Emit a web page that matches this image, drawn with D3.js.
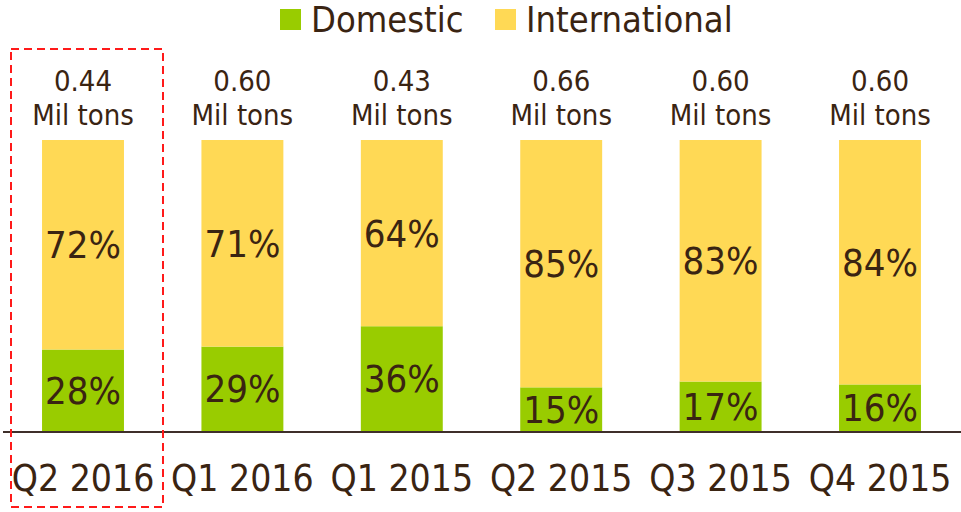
<!DOCTYPE html>
<html>
<head>
<meta charset="utf-8">
<script src="https://cdn.jsdelivr.net/npm/d3@7"></script>
<style>
  body { margin: 0; background: #fff; }
  text { font-family: "DejaVu Sans Condensed", "DejaVu Sans", sans-serif; font-stretch: condensed; fill: #3a2412; }
</style>
</head>
<body>
<div id="chart"></div>
<script>
// data
const quarters = ["Q2 2016", "Q1 2016", "Q1 2015", "Q2 2015", "Q3 2015", "Q4 2015"];
const domestic = [28, 29, 36, 15, 17, 16];
const international = [72, 71, 64, 85, 83, 84];
const totals = ["0.44", "0.60", "0.43", "0.66", "0.60", "0.60"];
const seriesNames = ["Domestic", "International"];

const width = 961;
const height = 512;

const svg = d3.select("#chart")
    .append("svg")
    .attr("width", width)
    .attr("height", height);

const colorScale = d3.scaleOrdinal()
    .domain(seriesNames)
    .range(["#99cc00", "#ffd955"]);

// scales
const xScale = d3.scaleBand()
    .domain(quarters)
    .range([3.3, 959.7])
    .paddingInner(0.486)
    .paddingOuter(0.243);

const yScale = d3.scaleLinear()
    .domain([0, 100])
    .range([431, 140]);

const rows = quarters.map(function(q, i) {
    return { quarter: q, Domestic: domestic[i], International: international[i], total: totals[i] };
});

const stacked = d3.stack().keys(seriesNames)(rows);

// bars
const layers = svg.selectAll("g.layer")
    .data(stacked)
    .enter()
    .append("g")
    .attr("class", "layer")
    .attr("fill", function(d) { return colorScale(d.key); });

layers.selectAll("rect")
    .data(function(d) { return d; })
    .enter()
    .append("rect")
    .attr("x", function(d) { return xScale(d.data.quarter); })
    .attr("y", function(d) { return yScale(d[1]); })
    .attr("width", xScale.bandwidth())
    .attr("height", function(d) { return yScale(d[0]) - yScale(d[1]); });

// percentage labels
layers.selectAll("text")
    .data(function(d) { return d; })
    .enter()
    .append("text")
    .attr("x", function(d) { return xScale(d.data.quarter) + xScale.bandwidth() / 2; })
    .attr("y", function(d) { return (yScale(d[0]) + yScale(d[1])) / 2; })
    .attr("dy", "0.36em")
    .attr("text-anchor", "middle")
    .attr("font-size", 38)
    .text(function(d) { return (d[1] - d[0]) + "%"; });

// baseline + category labels
const xAxis = svg.append("g")
    .attr("transform", `translate(0,${yScale(0)})`)
    .call(d3.axisBottom(xScale).tickSize(0).tickPadding(34));

xAxis.select(".domain").remove();
xAxis.selectAll("text")
    .attr("font-size", 37)
    .attr("font-family", null)
    .attr("fill", null);

svg.append("line")
    .attr("x1", 3)
    .attr("x2", width)
    .attr("y1", yScale(0) + 1)
    .attr("y2", yScale(0) + 1)
    .attr("stroke", "#3f2f2a")
    .attr("stroke-width", 2);

// totals above bars
const totalLabels = svg.selectAll("g.total")
    .data(rows)
    .enter()
    .append("text")
    .attr("class", "total")
    .attr("text-anchor", "middle")
    .attr("font-size", 29)
    .attr("x", function(d) { return xScale(d.quarter) + xScale.bandwidth() / 2; });

totalLabels.append("tspan")
    .attr("x", function(d) { return xScale(d.quarter) + xScale.bandwidth() / 2; })
    .attr("y", 91)
    .text(function(d) { return d.total; });

totalLabels.append("tspan")
    .attr("x", function(d) { return xScale(d.quarter) + xScale.bandwidth() / 2; })
    .attr("y", 125)
    .text("Mil tons");

// legend
const legendX = [280, 495];
seriesNames.forEach(function(name, i) {
    svg.append("rect")
        .attr("x", legendX[i])
        .attr("y", 9)
        .attr("width", 21)
        .attr("height", 21)
        .attr("fill", colorScale(name));

    svg.append("text")
        .attr("x", legendX[i] + 31)
        .attr("y", 32)
        .attr("font-size", 36)
        .text(name);
});

// highlight box around the latest quarter
const first = quarters[0];
const step = xScale.step();
svg.append("rect")
    .attr("x", xScale(first) + xScale.bandwidth() / 2 - 72)
    .attr("y", 49)
    .attr("width", 152)
    .attr("height", 458)
    .attr("fill", "none")
    .attr("stroke", "#ff1a1a")
    .attr("stroke-width", 2)
    .attr("stroke-dasharray", "8,5");
</script>
</body>
</html>
